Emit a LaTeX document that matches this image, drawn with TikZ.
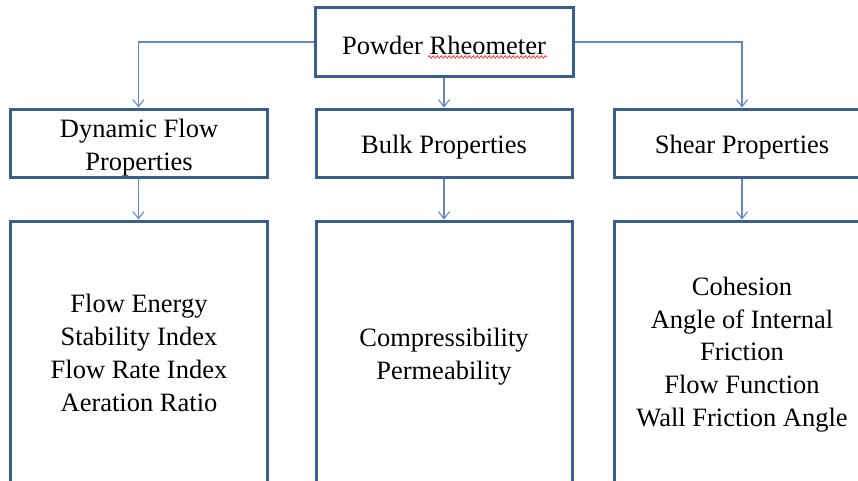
\documentclass[tikz,border=0pt]{standalone}
\usepackage{fontspec}
\setmainfont{Liberation Serif}
\usetikzlibrary{arrows.meta,decorations.pathmorphing}
\definecolor{boxline}{HTML}{3B5F8D}
\definecolor{conn}{HTML}{5F8BC4}
\tikzset{
  box/.style={draw=boxline, line width=3pt, fill=white, inner sep=0pt},
  lbl/.style={align=center, inner sep=0pt, font=\fontsize{26.5}{32.8}\selectfont, text=black},
  conn/.style={draw=conn, line width=1.1pt, -{Straight Barb[length=7pt,width=11pt]}},
}
\begin{document}
\begin{tikzpicture}[x=1pt,y=-1pt]
\useasboundingbox (0,0) rectangle (858,480);
\clip (0,0) rectangle (858,480);
\fill[white] (0,0) rectangle (858,480);
% top
\node[box, minimum width=258pt, minimum height=69pt] (top) at (444,42) {};
\node[lbl] (ttop) at (444,45) {Powder Rheometer};
% row 2
\node[box, minimum width=257pt, minimum height=68pt] (dyn) at (138.5,143) {};
\node[box, minimum width=256pt, minimum height=68pt] (bulk) at (444,143) {};
\node[box, minimum width=256pt, minimum height=68pt] (shear) at (742,143) {};
\node[lbl] (tdyn) at (139,147.5) {Dynamic Flow\\Properties};
\node[lbl] (tbulk) at (444,147.5) {Bulk Properties};
\node[lbl] (tshear) at (742,147.5) {Shear Properties};
% row 3
\node[box, minimum width=257pt, minimum height=262pt] (dynl) at (138.5,352) {};
\node[box, minimum width=256pt, minimum height=262pt] (bulkl) at (444,352) {};
\node[box, minimum width=256pt, minimum height=262pt] (shearl) at (742,352) {};
\node[lbl] (tdynl) at (139,353) {Flow Energy\\Stability Index\\Flow Rate Index\\Aeration Ratio};
\node[lbl] (tbulkl) at (444,357) {Compressibility\\Permeability};
\node[lbl] (tshearl) at (742,354.5) {Cohesion\\Angle of Internal\\Friction\\Flow Function\\Wall Friction Angle};
% connectors
\draw[conn] (top.west) -| (dyn.north);
\draw[conn] (top.east) -| (shear.north);
\draw[conn] (top.south) -- (bulk.north);
\draw[conn] (dyn.south) -- (dynl.north);
\draw[conn] (bulk.south) -- (bulkl.north);
\draw[conn] (shear.south) -- (shearl.north);
% spell-check underline
\draw[red!85, line width=0.7pt, decorate, decoration={snake, amplitude=1.3pt, segment length=4pt}] (428,57) -- (547,57);
\end{tikzpicture}
\end{document}
